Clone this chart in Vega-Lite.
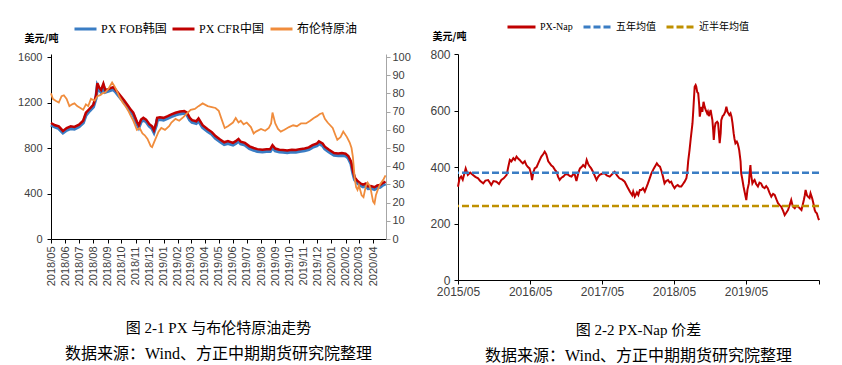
{
  "$schema": "https://vega.github.io/schema/vega-lite/v6.json",
  "background": "white",
  "padding": {"left": 17, "top": 21, "right": 5, "bottom": 2},
  "spacing": 18,
  "resolve": {"scale": {"color": "independent", "strokeDash": "independent"}, "legend": {"color": "independent", "strokeDash": "independent"}},
  "config": {
    "view": {"stroke": null},
    "axis": {"grid": false, "domainColor": "#000000", "tickColor": "#000000", "labelColor": "#404040", "labelFont": "Liberation Sans", "labelFontSize": 11, "tickSize": 4, "labelPadding": 2, "titleFont": "Noto Sans CJK SC", "titleFontSize": 10, "titleFontWeight": "bold", "titleColor": "#000000"},
    "title": {"font": "Liberation Serif, Noto Sans CJK SC", "fontSize": 15, "fontWeight": "normal", "color": "#000000", "subtitleFont": "Liberation Serif, Noto Sans CJK SC", "subtitleFontSize": 16, "subtitleColor": "#000000", "subtitlePadding": 10}
  },
  "datasets": {
    "left": [
      {"d":"2018-05-01","s":"PX FOB韩国","v":1002},{"d":"2018-05-10","s":"PX FOB韩国","v":985},{"d":"2018-05-18","s":"PX FOB韩国","v":972},{"d":"2018-05-27","s":"PX FOB韩国","v":935},{"d":"2018-06-04","s":"PX FOB韩国","v":958},{"d":"2018-06-13","s":"PX FOB韩国","v":972},{"d":"2018-06-21","s":"PX FOB韩国","v":968},{"d":"2018-07-01","s":"PX FOB韩国","v":988},{"d":"2018-07-10","s":"PX FOB韩国","v":1022},{"d":"2018-07-16","s":"PX FOB韩国","v":1090},{"d":"2018-07-24","s":"PX FOB韩国","v":1128},{"d":"2018-08-01","s":"PX FOB韩国","v":1162},{"d":"2018-08-07","s":"PX FOB韩国","v":1240},{"d":"2018-08-10","s":"PX FOB韩国","v":1345},{"d":"2018-08-14","s":"PX FOB韩国","v":1312},{"d":"2018-08-18","s":"PX FOB韩国","v":1292},{"d":"2018-08-23","s":"PX FOB韩国","v":1342},{"d":"2018-08-27","s":"PX FOB韩国","v":1292},{"d":"2018-09-04","s":"PX FOB韩国","v":1302},{"d":"2018-09-13","s":"PX FOB韩国","v":1315},{"d":"2018-09-18","s":"PX FOB韩国","v":1298},{"d":"2018-09-27","s":"PX FOB韩国","v":1252},{"d":"2018-10-07","s":"PX FOB韩国","v":1202},{"d":"2018-10-16","s":"PX FOB韩国","v":1152},{"d":"2018-10-21","s":"PX FOB韩国","v":1122},{"d":"2018-10-27","s":"PX FOB韩国","v":1092},{"d":"2018-11-04","s":"PX FOB韩国","v":1012},{"d":"2018-11-08","s":"PX FOB韩国","v":982},{"d":"2018-11-13","s":"PX FOB韩国","v":1032},{"d":"2018-11-18","s":"PX FOB韩国","v":1047},{"d":"2018-11-24","s":"PX FOB韩国","v":1032},{"d":"2018-12-01","s":"PX FOB韩国","v":992},{"d":"2018-12-07","s":"PX FOB韩国","v":972},{"d":"2018-12-11","s":"PX FOB韩国","v":940},{"d":"2018-12-16","s":"PX FOB韩国","v":1002},{"d":"2018-12-18","s":"PX FOB韩国","v":1045},{"d":"2018-12-24","s":"PX FOB韩国","v":1052},{"d":"2019-01-01","s":"PX FOB韩国","v":1047},{"d":"2019-01-10","s":"PX FOB韩国","v":1062},{"d":"2019-01-18","s":"PX FOB韩国","v":1077},{"d":"2019-01-27","s":"PX FOB韩国","v":1092},{"d":"2019-02-06","s":"PX FOB韩国","v":1102},{"d":"2019-02-15","s":"PX FOB韩国","v":1107},{"d":"2019-02-21","s":"PX FOB韩国","v":1092},{"d":"2019-02-27","s":"PX FOB韩国","v":1047},{"d":"2019-03-04","s":"PX FOB韩国","v":1027},{"d":"2019-03-13","s":"PX FOB韩国","v":1017},{"d":"2019-03-18","s":"PX FOB韩国","v":1042},{"d":"2019-03-27","s":"PX FOB韩国","v":982},{"d":"2019-04-07","s":"PX FOB韩国","v":947},{"d":"2019-04-16","s":"PX FOB韩国","v":922},{"d":"2019-04-24","s":"PX FOB韩国","v":887},{"d":"2019-05-04","s":"PX FOB韩国","v":857},{"d":"2019-05-13","s":"PX FOB韩国","v":832},{"d":"2019-05-21","s":"PX FOB韩国","v":842},{"d":"2019-06-01","s":"PX FOB韩国","v":827},{"d":"2019-06-07","s":"PX FOB韩国","v":842},{"d":"2019-06-13","s":"PX FOB韩国","v":862},{"d":"2019-06-18","s":"PX FOB韩国","v":837},{"d":"2019-06-27","s":"PX FOB韩国","v":827},{"d":"2019-07-07","s":"PX FOB韩国","v":797},{"d":"2019-07-16","s":"PX FOB韩国","v":782},{"d":"2019-07-24","s":"PX FOB韩国","v":772},{"d":"2019-08-04","s":"PX FOB韩国","v":767},{"d":"2019-08-13","s":"PX FOB韩国","v":772},{"d":"2019-08-21","s":"PX FOB韩国","v":772},{"d":"2019-08-26","s":"PX FOB韩国","v":805},{"d":"2019-09-01","s":"PX FOB韩国","v":777},{"d":"2019-09-10","s":"PX FOB韩国","v":767},{"d":"2019-09-18","s":"PX FOB韩国","v":764},{"d":"2019-09-27","s":"PX FOB韩国","v":760},{"d":"2019-10-07","s":"PX FOB韩国","v":767},{"d":"2019-10-16","s":"PX FOB韩国","v":764},{"d":"2019-10-24","s":"PX FOB韩国","v":772},{"d":"2019-11-04","s":"PX FOB韩国","v":777},{"d":"2019-11-13","s":"PX FOB韩国","v":787},{"d":"2019-11-21","s":"PX FOB韩国","v":807},{"d":"2019-12-01","s":"PX FOB韩国","v":822},{"d":"2019-12-05","s":"PX FOB韩国","v":840},{"d":"2019-12-13","s":"PX FOB韩国","v":822},{"d":"2019-12-18","s":"PX FOB韩国","v":794},{"d":"2019-12-27","s":"PX FOB韩国","v":767},{"d":"2020-01-07","s":"PX FOB韩国","v":737},{"d":"2020-01-16","s":"PX FOB韩国","v":734},{"d":"2020-01-24","s":"PX FOB韩国","v":737},{"d":"2020-02-01","s":"PX FOB韩国","v":732},{"d":"2020-02-07","s":"PX FOB韩国","v":712},{"d":"2020-02-13","s":"PX FOB韩国","v":662},{"d":"2020-02-17","s":"PX FOB韩国","v":582},{"d":"2020-02-21","s":"PX FOB韩国","v":522},{"d":"2020-02-27","s":"PX FOB韩国","v":492},{"d":"2020-03-04","s":"PX FOB韩国","v":472},{"d":"2020-03-10","s":"PX FOB韩国","v":460},{"d":"2020-03-16","s":"PX FOB韩国","v":470},{"d":"2020-03-21","s":"PX FOB韩国","v":444},{"d":"2020-03-27","s":"PX FOB韩国","v":447},{"d":"2020-04-04","s":"PX FOB韩国","v":437},{"d":"2020-04-10","s":"PX FOB韩国","v":452},{"d":"2020-04-16","s":"PX FOB韩国","v":457},{"d":"2020-04-21","s":"PX FOB韩国","v":472},{"d":"2020-04-28","s":"PX FOB韩国","v":487},
      {"d":"2018-05-01","s":"PX CFR中国","v":1020},{"d":"2018-05-10","s":"PX CFR中国","v":1000},{"d":"2018-05-18","s":"PX CFR中国","v":990},{"d":"2018-05-27","s":"PX CFR中国","v":950},{"d":"2018-06-04","s":"PX CFR中国","v":975},{"d":"2018-06-13","s":"PX CFR中国","v":990},{"d":"2018-06-21","s":"PX CFR中国","v":985},{"d":"2018-07-01","s":"PX CFR中国","v":1005},{"d":"2018-07-10","s":"PX CFR中国","v":1040},{"d":"2018-07-16","s":"PX CFR中国","v":1110},{"d":"2018-07-24","s":"PX CFR中国","v":1145},{"d":"2018-08-01","s":"PX CFR中国","v":1180},{"d":"2018-08-07","s":"PX CFR中国","v":1260},{"d":"2018-08-10","s":"PX CFR中国","v":1370},{"d":"2018-08-14","s":"PX CFR中国","v":1330},{"d":"2018-08-18","s":"PX CFR中国","v":1310},{"d":"2018-08-23","s":"PX CFR中国","v":1365},{"d":"2018-08-27","s":"PX CFR中国","v":1310},{"d":"2018-09-04","s":"PX CFR中国","v":1320},{"d":"2018-09-13","s":"PX CFR中国","v":1335},{"d":"2018-09-18","s":"PX CFR中国","v":1315},{"d":"2018-09-27","s":"PX CFR中国","v":1270},{"d":"2018-10-07","s":"PX CFR中国","v":1220},{"d":"2018-10-16","s":"PX CFR中国","v":1170},{"d":"2018-10-21","s":"PX CFR中国","v":1140},{"d":"2018-10-27","s":"PX CFR中国","v":1110},{"d":"2018-11-04","s":"PX CFR中国","v":1030},{"d":"2018-11-08","s":"PX CFR中国","v":1000},{"d":"2018-11-13","s":"PX CFR中国","v":1050},{"d":"2018-11-18","s":"PX CFR中国","v":1065},{"d":"2018-11-24","s":"PX CFR中国","v":1050},{"d":"2018-12-01","s":"PX CFR中国","v":1010},{"d":"2018-12-07","s":"PX CFR中国","v":990},{"d":"2018-12-11","s":"PX CFR中国","v":955},{"d":"2018-12-16","s":"PX CFR中国","v":1020},{"d":"2018-12-18","s":"PX CFR中国","v":1065},{"d":"2018-12-24","s":"PX CFR中国","v":1070},{"d":"2019-01-01","s":"PX CFR中国","v":1065},{"d":"2019-01-10","s":"PX CFR中国","v":1080},{"d":"2019-01-18","s":"PX CFR中国","v":1095},{"d":"2019-01-27","s":"PX CFR中国","v":1110},{"d":"2019-02-06","s":"PX CFR中国","v":1120},{"d":"2019-02-15","s":"PX CFR中国","v":1125},{"d":"2019-02-21","s":"PX CFR中国","v":1110},{"d":"2019-02-27","s":"PX CFR中国","v":1065},{"d":"2019-03-04","s":"PX CFR中国","v":1045},{"d":"2019-03-13","s":"PX CFR中国","v":1035},{"d":"2019-03-18","s":"PX CFR中国","v":1060},{"d":"2019-03-27","s":"PX CFR中国","v":1000},{"d":"2019-04-07","s":"PX CFR中国","v":965},{"d":"2019-04-16","s":"PX CFR中国","v":940},{"d":"2019-04-24","s":"PX CFR中国","v":905},{"d":"2019-05-04","s":"PX CFR中国","v":875},{"d":"2019-05-13","s":"PX CFR中国","v":850},{"d":"2019-05-21","s":"PX CFR中国","v":860},{"d":"2019-06-01","s":"PX CFR中国","v":845},{"d":"2019-06-07","s":"PX CFR中国","v":860},{"d":"2019-06-13","s":"PX CFR中国","v":880},{"d":"2019-06-18","s":"PX CFR中国","v":855},{"d":"2019-06-27","s":"PX CFR中国","v":845},{"d":"2019-07-07","s":"PX CFR中国","v":815},{"d":"2019-07-16","s":"PX CFR中国","v":800},{"d":"2019-07-24","s":"PX CFR中国","v":790},{"d":"2019-08-04","s":"PX CFR中国","v":785},{"d":"2019-08-13","s":"PX CFR中国","v":790},{"d":"2019-08-21","s":"PX CFR中国","v":790},{"d":"2019-08-26","s":"PX CFR中国","v":825},{"d":"2019-09-01","s":"PX CFR中国","v":795},{"d":"2019-09-10","s":"PX CFR中国","v":785},{"d":"2019-09-18","s":"PX CFR中国","v":782},{"d":"2019-09-27","s":"PX CFR中国","v":778},{"d":"2019-10-07","s":"PX CFR中国","v":785},{"d":"2019-10-16","s":"PX CFR中国","v":782},{"d":"2019-10-24","s":"PX CFR中国","v":790},{"d":"2019-11-04","s":"PX CFR中国","v":795},{"d":"2019-11-13","s":"PX CFR中国","v":805},{"d":"2019-11-21","s":"PX CFR中国","v":825},{"d":"2019-12-01","s":"PX CFR中国","v":840},{"d":"2019-12-05","s":"PX CFR中国","v":858},{"d":"2019-12-13","s":"PX CFR中国","v":840},{"d":"2019-12-18","s":"PX CFR中国","v":812},{"d":"2019-12-27","s":"PX CFR中国","v":785},{"d":"2020-01-07","s":"PX CFR中国","v":755},{"d":"2020-01-16","s":"PX CFR中国","v":752},{"d":"2020-01-24","s":"PX CFR中国","v":755},{"d":"2020-02-01","s":"PX CFR中国","v":750},{"d":"2020-02-07","s":"PX CFR中国","v":730},{"d":"2020-02-13","s":"PX CFR中国","v":680},{"d":"2020-02-17","s":"PX CFR中国","v":600},{"d":"2020-02-21","s":"PX CFR中国","v":540},{"d":"2020-02-27","s":"PX CFR中国","v":510},{"d":"2020-03-04","s":"PX CFR中国","v":490},{"d":"2020-03-10","s":"PX CFR中国","v":478},{"d":"2020-03-16","s":"PX CFR中国","v":488},{"d":"2020-03-21","s":"PX CFR中国","v":462},{"d":"2020-03-27","s":"PX CFR中国","v":465},{"d":"2020-04-04","s":"PX CFR中国","v":455},{"d":"2020-04-10","s":"PX CFR中国","v":470},{"d":"2020-04-16","s":"PX CFR中国","v":475},{"d":"2020-04-21","s":"PX CFR中国","v":490},{"d":"2020-04-28","s":"PX CFR中国","v":505},
      {"d":"2018-05-01","s":"布伦特原油","v":80},{"d":"2018-05-05","s":"布伦特原油","v":77},{"d":"2018-05-11","s":"布伦特原油","v":76},{"d":"2018-05-18","s":"布伦特原油","v":75},{"d":"2018-05-24","s":"布伦特原油","v":78.5},{"d":"2018-05-29","s":"布伦特原油","v":79},{"d":"2018-06-04","s":"布伦特原油","v":77},{"d":"2018-06-10","s":"布伦特原油","v":73},{"d":"2018-06-16","s":"布伦特原油","v":74},{"d":"2018-06-21","s":"布伦特原油","v":74.5},{"d":"2018-06-27","s":"布伦特原油","v":73},{"d":"2018-07-04","s":"布伦特原油","v":72},{"d":"2018-07-10","s":"布伦特原油","v":71},{"d":"2018-07-16","s":"布伦特原油","v":74},{"d":"2018-07-21","s":"布伦特原油","v":73},{"d":"2018-07-27","s":"布伦特原油","v":77},{"d":"2018-08-04","s":"布伦特原油","v":76},{"d":"2018-08-10","s":"布伦特原油","v":78.5},{"d":"2018-08-16","s":"布伦特原油","v":79},{"d":"2018-08-21","s":"布伦特原油","v":80},{"d":"2018-08-27","s":"布伦特原油","v":80.5},{"d":"2018-09-04","s":"布伦特原油","v":83},{"d":"2018-09-11","s":"布伦特原油","v":86},{"d":"2018-09-16","s":"布伦特原油","v":84},{"d":"2018-09-21","s":"布伦特原油","v":81.5},{"d":"2018-09-27","s":"布伦特原油","v":78},{"d":"2018-10-04","s":"布伦特原油","v":75},{"d":"2018-10-10","s":"布伦特原油","v":73},{"d":"2018-10-16","s":"布伦特原油","v":70.5},{"d":"2018-10-21","s":"布伦特原油","v":68},{"d":"2018-10-27","s":"布伦特原油","v":65},{"d":"2018-11-04","s":"布伦特原油","v":60},{"d":"2018-11-10","s":"布伦特原油","v":61},{"d":"2018-11-16","s":"布伦特原油","v":58},{"d":"2018-11-21","s":"布伦特原油","v":57},{"d":"2018-11-27","s":"布伦特原油","v":55},{"d":"2018-12-04","s":"布伦特原油","v":51},{"d":"2018-12-07","s":"布伦特原油","v":50.5},{"d":"2018-12-11","s":"布伦特原油","v":53},{"d":"2018-12-16","s":"布伦特原油","v":56},{"d":"2018-12-21","s":"布伦特原油","v":59},{"d":"2018-12-27","s":"布伦特原油","v":61},{"d":"2019-01-04","s":"布伦特原油","v":60},{"d":"2019-01-13","s":"布伦特原油","v":62},{"d":"2019-01-18","s":"布伦特原油","v":64},{"d":"2019-01-27","s":"布伦特原油","v":66},{"d":"2019-02-04","s":"布伦特原油","v":65},{"d":"2019-02-13","s":"布伦特原油","v":67},{"d":"2019-02-21","s":"布伦特原油","v":69},{"d":"2019-03-01","s":"布伦特原油","v":71},{"d":"2019-03-10","s":"布伦特原油","v":71.5},{"d":"2019-03-18","s":"布伦特原油","v":73},{"d":"2019-03-27","s":"布伦特原油","v":74.5},{"d":"2019-04-07","s":"布伦特原油","v":73},{"d":"2019-04-16","s":"布伦特原油","v":72.5},{"d":"2019-04-24","s":"布伦特原油","v":72},{"d":"2019-05-01","s":"布伦特原油","v":70.5},{"d":"2019-05-07","s":"布伦特原油","v":66},{"d":"2019-05-14","s":"布伦特原油","v":61},{"d":"2019-05-21","s":"布伦特原油","v":62},{"d":"2019-06-01","s":"布伦特原油","v":64},{"d":"2019-06-07","s":"布伦特原油","v":66.5},{"d":"2019-06-13","s":"布伦特原油","v":64},{"d":"2019-06-18","s":"布伦特原油","v":65},{"d":"2019-06-24","s":"布伦特原油","v":63},{"d":"2019-07-01","s":"布伦特原油","v":64},{"d":"2019-07-10","s":"布伦特原油","v":61.5},{"d":"2019-07-16","s":"布伦特原油","v":58},{"d":"2019-07-21","s":"布伦特原油","v":59},{"d":"2019-08-01","s":"布伦特原油","v":60.5},{"d":"2019-08-10","s":"布伦特原油","v":59.5},{"d":"2019-08-18","s":"布伦特原油","v":61},{"d":"2019-08-23","s":"布伦特原油","v":63.5},{"d":"2019-08-26","s":"布伦特原油","v":69.5},{"d":"2019-09-01","s":"布伦特原油","v":63.5},{"d":"2019-09-07","s":"布伦特原油","v":60.5},{"d":"2019-09-13","s":"布伦特原油","v":59},{"d":"2019-09-21","s":"布伦特原油","v":60},{"d":"2019-10-01","s":"布伦特原油","v":61.5},{"d":"2019-10-10","s":"布伦特原油","v":62.5},{"d":"2019-10-18","s":"布伦特原油","v":62},{"d":"2019-10-27","s":"布伦特原油","v":63.5},{"d":"2019-11-07","s":"布伦特原油","v":63.5},{"d":"2019-11-16","s":"布伦特原油","v":65},{"d":"2019-11-24","s":"布伦特原油","v":66.5},{"d":"2019-12-01","s":"布伦特原油","v":67.5},{"d":"2019-12-07","s":"布伦特原油","v":68.7},{"d":"2019-12-13","s":"布伦特原油","v":69.2},{"d":"2019-12-18","s":"布伦特原油","v":66},{"d":"2019-12-24","s":"布伦特原油","v":64},{"d":"2020-01-04","s":"布伦特原油","v":61},{"d":"2020-01-10","s":"布伦特原油","v":57},{"d":"2020-01-14","s":"布伦特原油","v":54.5},{"d":"2020-01-21","s":"布伦特原油","v":56},{"d":"2020-01-27","s":"布伦特原油","v":59},{"d":"2020-02-04","s":"布伦特原油","v":56},{"d":"2020-02-10","s":"布伦特原油","v":53},{"d":"2020-02-14","s":"布伦特原油","v":50},{"d":"2020-02-17","s":"布伦特原油","v":45},{"d":"2020-02-21","s":"布伦特原油","v":33},{"d":"2020-02-24","s":"布伦特原油","v":28.5},{"d":"2020-02-27","s":"布伦特原油","v":27},{"d":"2020-03-01","s":"布伦特原油","v":29.5},{"d":"2020-03-07","s":"布伦特原油","v":24},{"d":"2020-03-11","s":"布伦特原油","v":23},{"d":"2020-03-16","s":"布伦特原油","v":29},{"d":"2020-03-20","s":"布伦特原油","v":31},{"d":"2020-03-24","s":"布伦特原油","v":29.5},{"d":"2020-03-27","s":"布伦特原油","v":27},{"d":"2020-04-01","s":"布伦特原油","v":20.5},{"d":"2020-04-04","s":"布伦特原油","v":19.5},{"d":"2020-04-07","s":"布伦特原油","v":24},{"d":"2020-04-11","s":"布伦特原油","v":27},{"d":"2020-04-16","s":"布伦特原油","v":30},{"d":"2020-04-20","s":"布伦特原油","v":31.5},{"d":"2020-04-24","s":"布伦特原油","v":33},{"d":"2020-04-28","s":"布伦特原油","v":35}
    ],
    "nap": [
      {"d":"2015-05-01","v":330},{"d":"2015-05-09","v":360},{"d":"2015-05-17","v":366},{"d":"2015-05-25","v":355},{"d":"2015-06-09","v":395},{"d":"2015-06-20","v":372},{"d":"2015-07-02","v":380},{"d":"2015-07-16","v":372},{"d":"2015-07-28","v":365},{"d":"2015-08-11","v":360},{"d":"2015-08-22","v":350},{"d":"2015-09-06","v":342},{"d":"2015-09-17","v":352},{"d":"2015-10-01","v":354},{"d":"2015-10-09","v":345},{"d":"2015-10-17","v":336},{"d":"2015-10-28","v":350},{"d":"2015-11-12","v":348},{"d":"2015-11-25","v":340},{"d":"2015-12-07","v":354},{"d":"2015-12-19","v":360},
      {"d":"2016-01-03","v":372},{"d":"2016-01-11","v":400},{"d":"2016-01-19","v":425},{"d":"2016-01-27","v":420},{"d":"2016-02-06","v":431},{"d":"2016-02-14","v":425},{"d":"2016-02-22","v":437},{"d":"2016-03-01","v":430},{"d":"2016-03-09","v":425},{"d":"2016-03-17","v":418},{"d":"2016-03-25","v":413},{"d":"2016-04-04","v":420},{"d":"2016-04-12","v":407},{"d":"2016-04-20","v":400},{"d":"2016-04-28","v":395},{"d":"2016-05-06","v":375},{"d":"2016-05-11","v":354},{"d":"2016-05-17","v":380},{"d":"2016-05-24","v":395},{"d":"2016-06-03","v":400},{"d":"2016-06-11","v":413},{"d":"2016-06-19","v":425},{"d":"2016-06-27","v":437},{"d":"2016-07-06","v":445},{"d":"2016-07-14","v":454},{"d":"2016-07-22","v":445},{"d":"2016-08-01","v":420},{"d":"2016-08-09","v":413},{"d":"2016-08-17","v":405},{"d":"2016-08-25","v":401},{"d":"2016-09-04","v":390},{"d":"2016-09-12","v":383},{"d":"2016-09-20","v":365},{"d":"2016-09-28","v":354},{"d":"2016-10-07","v":362},{"d":"2016-10-16","v":366},{"d":"2016-10-28","v":375},{"d":"2016-11-11","v":372},{"d":"2016-11-19","v":368},{"d":"2016-11-27","v":366},{"d":"2016-12-06","v":375},{"d":"2016-12-14","v":372},{"d":"2016-12-22","v":350},
      {"d":"2017-01-01","v":380},{"d":"2017-01-09","v":395},{"d":"2017-01-17","v":400},{"d":"2017-01-25","v":407},{"d":"2017-02-04","v":400},{"d":"2017-02-12","v":425},{"d":"2017-02-20","v":410},{"d":"2017-02-28","v":401},{"d":"2017-03-07","v":395},{"d":"2017-03-16","v":383},{"d":"2017-03-24","v":370},{"d":"2017-04-03","v":354},{"d":"2017-04-11","v":365},{"d":"2017-04-19","v":372},{"d":"2017-05-01","v":376},{"d":"2017-05-14","v":378},{"d":"2017-05-25","v":370},{"d":"2017-06-09","v":366},{"d":"2017-06-22","v":375},{"d":"2017-07-04","v":383},{"d":"2017-07-16","v":370},{"d":"2017-07-28","v":360},{"d":"2017-08-12","v":355},{"d":"2017-08-24","v":348},{"d":"2017-09-06","v":330},{"d":"2017-09-19","v":313},{"d":"2017-10-01","v":300},{"d":"2017-10-06","v":313},{"d":"2017-10-14","v":295},{"d":"2017-10-25","v":310},{"d":"2017-11-01","v":301},{"d":"2017-11-09","v":319},{"d":"2017-11-17","v":319},{"d":"2017-11-25","v":325},{"d":"2017-12-04","v":313},{"d":"2017-12-20","v":342},
      {"d":"2018-01-07","v":378},{"d":"2018-01-19","v":395},{"d":"2018-02-03","v":413},{"d":"2018-02-11","v":405},{"d":"2018-02-19","v":401},{"d":"2018-02-27","v":385},{"d":"2018-03-06","v":366},{"d":"2018-03-14","v":342},{"d":"2018-03-22","v":350},{"d":"2018-04-01","v":354},{"d":"2018-04-09","v":345},{"d":"2018-04-17","v":348},{"d":"2018-04-25","v":335},{"d":"2018-05-04","v":325},{"d":"2018-05-12","v":333},{"d":"2018-05-20","v":336},{"d":"2018-05-28","v":331},{"d":"2018-06-07","v":331},{"d":"2018-06-16","v":340},{"d":"2018-06-24","v":348},{"d":"2018-07-03","v":360},{"d":"2018-07-07","v":378},{"d":"2018-07-12","v":420},{"d":"2018-07-19","v":460},{"d":"2018-07-25","v":500},{"d":"2018-08-03","v":555},{"d":"2018-08-07","v":600},{"d":"2018-08-14","v":684},{"d":"2018-08-19","v":690},{"d":"2018-08-22","v":685},{"d":"2018-08-27","v":665},{"d":"2018-09-01","v":661},{"d":"2018-09-06","v":620},{"d":"2018-09-09","v":578},{"d":"2018-09-14","v":600},{"d":"2018-09-17","v":613},{"d":"2018-09-22","v":595},{"d":"2018-09-28","v":631},{"d":"2018-10-04","v":612},{"d":"2018-10-09","v":602},{"d":"2018-10-16","v":590},{"d":"2018-10-20","v":596},{"d":"2018-10-25","v":580},{"d":"2018-11-03","v":602},{"d":"2018-11-07","v":585},{"d":"2018-11-12","v":566},{"d":"2018-11-16","v":530},{"d":"2018-11-19","v":496},{"d":"2018-11-24","v":540},{"d":"2018-11-28","v":555},{"d":"2018-12-06","v":560},{"d":"2018-12-11","v":555},{"d":"2018-12-16","v":510},{"d":"2018-12-19","v":484},{"d":"2018-12-24","v":520},{"d":"2018-12-27","v":566},
      {"d":"2019-01-03","v":580},{"d":"2019-01-09","v":584},{"d":"2019-01-16","v":595},{"d":"2019-01-22","v":613},{"d":"2019-01-28","v":595},{"d":"2019-02-06","v":584},{"d":"2019-02-12","v":590},{"d":"2019-02-17","v":578},{"d":"2019-02-22","v":555},{"d":"2019-02-28","v":519},{"d":"2019-03-04","v":500},{"d":"2019-03-09","v":484},{"d":"2019-03-16","v":490},{"d":"2019-03-20","v":484},{"d":"2019-03-25","v":470},{"d":"2019-03-28","v":460},{"d":"2019-04-04","v":420},{"d":"2019-04-07","v":378},{"d":"2019-04-12","v":360},{"d":"2019-04-19","v":331},{"d":"2019-04-25","v":310},{"d":"2019-05-03","v":283},{"d":"2019-05-09","v":320},{"d":"2019-05-16","v":342},{"d":"2019-05-20","v":380},{"d":"2019-05-24","v":407},{"d":"2019-05-27","v":375},{"d":"2019-06-03","v":342},{"d":"2019-06-09","v":350},{"d":"2019-06-14","v":354},{"d":"2019-06-22","v":340},{"d":"2019-07-01","v":331},{"d":"2019-07-09","v":345},{"d":"2019-07-17","v":342},{"d":"2019-07-25","v":330},{"d":"2019-08-04","v":325},{"d":"2019-08-12","v":332},{"d":"2019-08-20","v":325},{"d":"2019-08-28","v":310},{"d":"2019-09-07","v":295},{"d":"2019-09-16","v":305},{"d":"2019-09-24","v":301},{"d":"2019-10-03","v":285},{"d":"2019-10-11","v":272},{"d":"2019-10-19","v":265},{"d":"2019-10-27","v":260},{"d":"2019-11-06","v":245},{"d":"2019-11-14","v":230},{"d":"2019-11-22","v":238},{"d":"2019-12-01","v":248},{"d":"2019-12-09","v":265},{"d":"2019-12-17","v":283},{"d":"2019-12-25","v":260},
      {"d":"2020-01-04","v":254},{"d":"2020-01-12","v":262},{"d":"2020-01-20","v":260},{"d":"2020-01-28","v":255},{"d":"2020-02-07","v":248},{"d":"2020-02-12","v":262},{"d":"2020-02-19","v":283},{"d":"2020-02-24","v":300},{"d":"2020-02-28","v":319},{"d":"2020-03-06","v":300},{"d":"2020-03-11","v":295},{"d":"2020-03-19","v":290},{"d":"2020-03-24","v":307},{"d":"2020-04-01","v":290},{"d":"2020-04-06","v":276},{"d":"2020-04-11","v":260},{"d":"2020-04-14","v":248},{"d":"2020-04-19","v":240},{"d":"2020-04-25","v":236},{"d":"2020-05-01","v":222},{"d":"2020-05-06","v":212}
    ],
    "avg": [
      {"s":"五年均值","v":380},
      {"s":"近半年均值","v":262}
    ]
  },
  "hconcat": [
    {
      "width": 335,
      "height": 185,
      "title": {"text": "图 2-1 PX 与布伦特原油走势", "subtitle": "数据来源：Wind、方正中期期货研究院整理", "orient": "bottom", "anchor": "middle", "offset": 35},
      "layer": [
        {
          "layer": [
            {
              "data": {"name": "left"},
              "transform": [{"filter": "datum.s === 'PX FOB韩国'"}],
              "mark": {"type": "line", "strokeWidth": 3.5},
              "encoding": {
                "x": {"field": "d", "type": "temporal", "scale": {"type": "utc", "domain": [{"year": 2018, "month": 5, "date": 1, "utc": true}, {"year": 2020, "month": 4, "date": 29, "utc": true}]}, "axis": {"title": null, "format": "%Y/%m", "labelAngle": -90, "tickCount": {"interval": "month", "step": 1}, "labelOverlap": false, "labelFlush": false, "labelPadding": 3}},
                "y": {"field": "v", "type": "quantitative", "scale": {"domain": [0, 1626.4], "nice": false, "zero": true}, "axis": {"values": [0, 200, 400, 600, 800, 1000, 1200, 1400, 1600], "format": "d", "title": "美元/吨", "titleAngle": 0, "titleAlign": "center", "titleBaseline": "bottom", "titleX": -10, "titleY": -11, "labelPadding": 5}},
                "color": {"field": "s", "type": "nominal", "scale": {"domain": ["PX FOB韩国", "PX CFR中国", "布伦特原油"], "range": ["#3A7DC4", "#C00000", "#F08C3C"]}, "legend": {"orient": "none", "legendX": 22, "legendY": -31, "direction": "horizontal", "title": null, "symbolType": "stroke", "symbolSize": 484, "symbolStrokeWidth": 3, "clipHeight": 12, "labelFont": "Liberation Serif, Noto Sans CJK SC", "labelFontSize": 12, "labelColor": "#000000", "columnPadding": 4, "gridAlign": "none", "labelOffset": 3}}
              }
            },
            {
              "data": {"name": "left"},
              "transform": [{"filter": "datum.s === 'PX CFR中国'"}],
              "mark": {"type": "line", "strokeWidth": 2.5},
              "encoding": {
                "x": {"field": "d", "type": "temporal"},
                "y": {"field": "v", "type": "quantitative"},
                "color": {"field": "s", "type": "nominal"}
              }
            }
          ]
        },
        {
          "data": {"name": "left"},
          "transform": [{"filter": "datum.s === '布伦特原油'"}],
          "mark": {"type": "line", "strokeWidth": 1.8},
          "encoding": {
            "x": {"field": "d", "type": "temporal"},
            "y": {"field": "v", "type": "quantitative", "scale": {"domain": [0, 101.65], "nice": false}, "axis": {"orient": "right", "values": [0, 10, 20, 30, 40, 50, 60, 70, 80, 90, 100], "title": null, "domainColor": "#A6A6A6", "tickColor": "#A6A6A6", "labelPadding": 2}},
            "color": {"field": "s", "type": "nominal"}
          }
        }
      ],
      "resolve": {"scale": {"y": "independent"}}
    },
    {
      "width": 361,
      "height": 226,
      "title": {"text": "图 2-2 PX-Nap 价差", "subtitle": "数据来源：Wind、方正中期期货研究院整理", "orient": "bottom", "anchor": "middle", "offset": 26},
      "layer": [
        {
          "data": {"name": "nap"},
          "mark": {"type": "line", "strokeWidth": 2, "color": "#C00000"},
          "encoding": {
            "x": {"field": "d", "type": "temporal", "scale": {"type": "utc", "domain": [{"year": 2015, "month": 5, "date": 1, "utc": true}, {"year": 2020, "month": 5, "date": 6, "utc": true}]}, "axis": {"title": null, "format": "%Y/%m", "labelAngle": 0, "values": [{"year": 2015, "month": 5, "date": 1, "utc": true}, {"year": 2016, "month": 5, "date": 1, "utc": true}, {"year": 2017, "month": 5, "date": 1, "utc": true}, {"year": 2018, "month": 5, "date": 1, "utc": true}, {"year": 2019, "month": 5, "date": 1, "utc": true}, {"year": 2020, "month": 5, "date": 6, "utc": true}], "labelExpr": "utcyear(datum.value) >= 2020 ? '' : datum.label", "labelFont": "Liberation Sans Narrow, Liberation Sans", "labelFontSize": 12, "labelFlush": false, "labelOverlap": false}},
            "y": {"field": "v", "type": "quantitative", "scale": {"domain": [0, 800], "nice": false}, "axis": {"values": [0, 100, 200, 300, 400, 500, 600, 700, 800], "title": "美元/吨", "titleAngle": 0, "titleAlign": "center", "titleBaseline": "bottom", "titleX": -9, "titleY": -13, "labelFont": "Liberation Sans Narrow, Liberation Sans", "labelFontSize": 12, "labelPadding": 4}}
          }
        },
        {
          "data": {"values": [{"s": "PX-Nap", "v": 800}]},
          "mark": {"type": "line", "opacity": 0},
          "encoding": {
            "y": {"field": "v", "type": "quantitative"},
            "color": {"field": "s", "type": "nominal", "scale": {"domain": ["PX-Nap", "五年均值", "近半年均值"], "range": ["#C00000", "#3A7DC4", "#BF9000"]}, "legend": {"orient": "none", "legendX": 48, "legendY": -33, "direction": "horizontal", "title": null, "symbolType": "stroke", "symbolSize": 784, "symbolStrokeWidth": 3, "clipHeight": 12, "labelFont": "Liberation Serif, Noto Sans CJK SC", "labelFontSize": 10, "labelColor": "#000000", "columnPadding": 9, "gridAlign": "none", "labelOffset": 3, "symbolOpacity": 1}},
            "strokeDash": {"field": "s", "type": "nominal", "scale": {"domain": ["PX-Nap", "五年均值", "近半年均值"], "range": [[1, 0], [7, 3], [7, 3]]}, "legend": {"orient": "none", "legendX": 48, "legendY": -33, "direction": "horizontal", "title": null, "symbolType": "stroke", "symbolSize": 784, "symbolStrokeWidth": 3, "clipHeight": 12, "labelFont": "Liberation Serif, Noto Sans CJK SC", "labelFontSize": 10, "labelColor": "#000000", "columnPadding": 9, "gridAlign": "none", "labelOffset": 3, "symbolOpacity": 1}}
          }
        },
        {
          "data": {"name": "avg"},
          "mark": {"type": "rule", "strokeWidth": 2.5},
          "encoding": {
            "y": {"field": "v", "type": "quantitative"},
            "color": {"field": "s", "type": "nominal"},
            "strokeDash": {"field": "s", "type": "nominal"}
          }
        }
      ]
    }
  ]
}
